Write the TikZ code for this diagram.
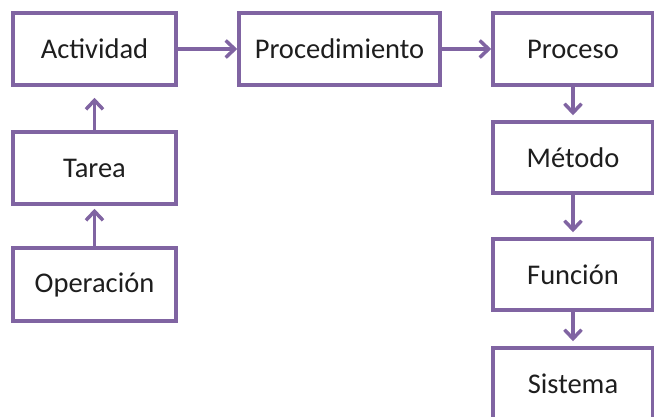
\documentclass[tikz,border=0pt]{standalone}
\usepackage{fontspec}
\setmainfont{Carlito}
\usetikzlibrary{arrows.meta}
\definecolor{boxpurple}{HTML}{8064A2}
\definecolor{txt}{HTML}{1E1E1E}
\tikzset{
  box/.style={draw=boxpurple, line width=3.5pt, fill=white, rectangle, inner sep=0pt,
    minimum height=72pt, text=txt, font=\fontsize{28.5}{34}\selectfont},
  conn/.style={draw=boxpurple, line width=3.5pt, -{Straight Barb[length=9pt,width=17pt,line width=3.5pt]}}
}
\begin{document}
\begin{tikzpicture}[x=1pt,y=-1pt]
\useasboundingbox (0,0) rectangle (654,416);
\clip (0,0) rectangle (654,416);
\node[box, minimum width=163pt] (act) at (94.5,49) {Actividad};
\node[box, minimum width=163pt] (tar) at (94.5,168) {Tarea};
\node[box, minimum width=163pt, minimum height=73pt] (ope) at (94.5,284.5) {Operación};
\node[box, minimum width=201pt] (proc) at (339.5,49) {Procedimiento};
\node[box, minimum width=160pt] (pro) at (573,49) {Proceso};
\node[box, minimum width=160pt, minimum height=71pt] (met) at (573,157.5) {Método};
\node[box, minimum width=160pt, minimum height=71pt] (fun) at (573,274.5) {Función};
\node[box, minimum width=160pt] (sis) at (573,384) {Sistema};
\draw[conn] (act) -- (proc);
\draw[conn] (proc) -- (pro);
\draw[conn, shorten >=5pt] (pro) -- (met);
\draw[conn, shorten >=5pt] (met) -- (fun);
\draw[conn, shorten >=5pt] (fun) -- (sis);
\draw[conn, shorten >=11pt] (tar) -- (act);
\draw[conn, shorten >=3pt] (ope) -- (tar);
\end{tikzpicture}
\end{document}
